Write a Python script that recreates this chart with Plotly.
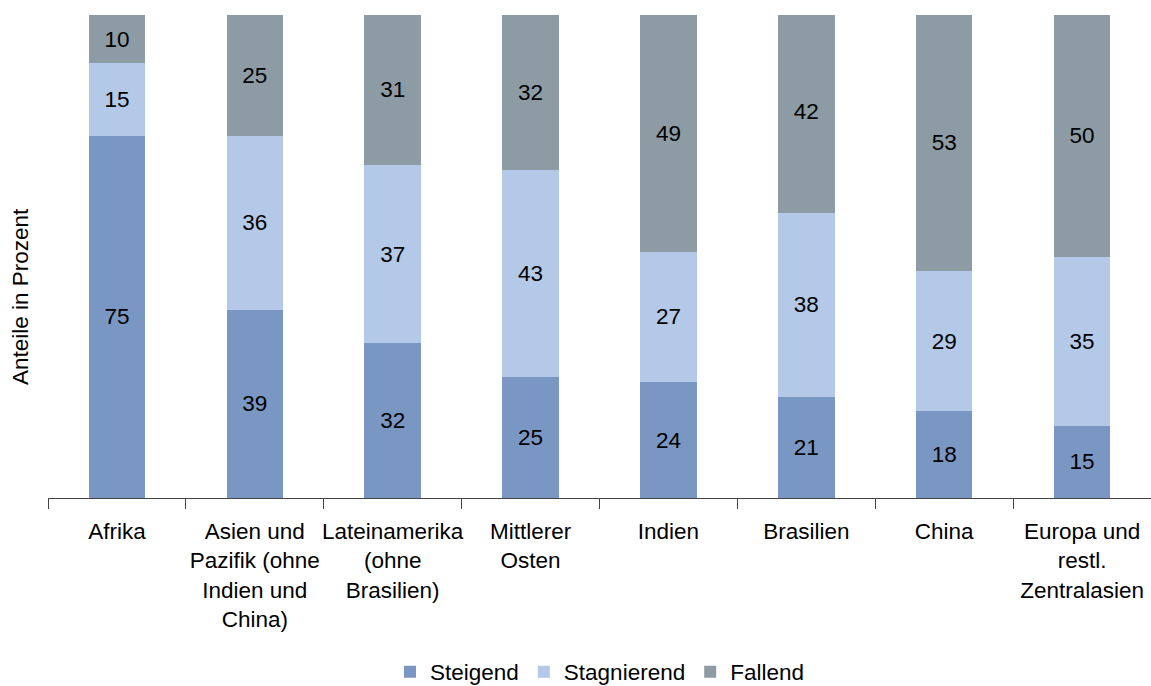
import plotly.graph_objects as go

categories = [
    "Afrika",
    "Asien und<br>Pazifik (ohne<br>Indien und<br>China)",
    "Lateinamerika<br>(ohne<br>Brasilien)",
    "Mittlerer<br>Osten",
    "Indien",
    "Brasilien",
    "China",
    "Europa und<br>restl.<br>Zentralasien",
]
steigend = [75, 39, 32, 25, 24, 21, 18, 15]
stagnierend = [15, 36, 37, 43, 27, 38, 29, 35]
fallend = [10, 25, 31, 32, 49, 42, 53, 50]

series = [
    ("Steigend", steigend, "#7A96C2"),
    ("Stagnierend", stagnierend, "#B3C9E7"),
    ("Fallend", fallend, "#8D9BA5"),
]

FONT = "Liberation Sans, Arial, sans-serif"
FS = 22.5

fig = go.Figure()
for name, vals, col in series:
    fig.add_trace(go.Bar(
        x=categories, y=vals, name=name,
        marker=dict(color=col, line=dict(width=0)),
        text=[str(v) for v in vals],
        textposition="inside",
        insidetextanchor="middle",
        textangle=0,
        constraintext="none",
        textfont=dict(color="black", size=FS, family=FONT),
        width=0.41,
    ))

fig.update_layout(
    barmode="stack",
    width=1151, height=686,
    margin=dict(l=48, r=0, t=15, b=188, autoexpand=False),
    plot_bgcolor="white", paper_bgcolor="white",
    font=dict(family=FONT, size=FS, color="black"),
    showlegend=True,
    legend=dict(
        orientation="h", x=0.5, xanchor="center", y=(498 - 672) / 483, yanchor="middle",
        font=dict(size=FS, color="black"), itemwidth=30, tracegroupgap=0,
        traceorder="normal",
    ),
    xaxis=dict(
        showline=True, linecolor="#444", linewidth=1,
        ticks="outside", tickson="boundaries", ticklen=10, tickcolor="#444",
        tickfont=dict(size=FS, color="black"), tickangle=0,
        ticklabelstandoff=13,
        showgrid=False, automargin=False,
    ),
    yaxis=dict(
        range=[0, 100], showticklabels=False, showgrid=False, zeroline=False,
        showline=False, ticks="", automargin=False,
    ),
    annotations=[dict(
        text="Anteile in Prozent", textangle=-90,
        xref="paper", yref="paper", x=-(48 - 20) / 1103, y=(498 - 297) / 483,
        xanchor="center", yanchor="middle", showarrow=False,
        font=dict(size=FS, color="black"),
    )],
)

fig.write_html("out.html", config={"displayModeBar": False},
               post_script="document.body.style.margin='0px';")
